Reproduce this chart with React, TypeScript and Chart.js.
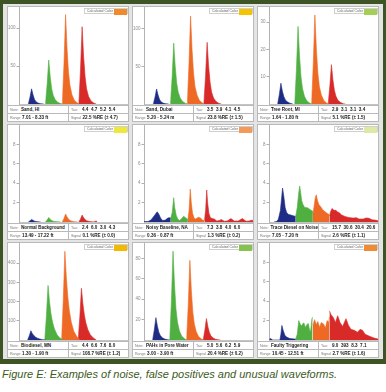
import React, { useEffect, useRef } from "react";
import { Chart, registerables } from "chart.js";
Chart.register(...registerables);

type Pt = [number, number];

// ---- panel metadata ----
const NOTES = [
  "Sand, HI", "Sand, Dubai", "Tree Root, MI",
  "Normal Background", "Noisy Baseline, NA", "Trace Diesel on Noise",
  "Biodiesel, MN", "PAHs in Pore Water", "Faulty Triggering",
];
const TAUS = [
  "4.4  4.7  5.2  5.4", "3.5  3.9  4.1  4.5", "2.9  3.1  3.1  3.4",
  "2.4  6.0  3.0  4.3", "7.3  3.8  4.0  6.0", "15.7  30.6  30.4  20.6",
  "4.4  6.6  7.6  8.0", "5.0  5.6  6.2  5.9", "9.0  393  8.3  7.1",
];
const RANGES = [
  "7.01 - 8.33 ft", "5.20 - 5.24 m", "1.64 - 1.80 ft",
  "13.49 - 17.22 ft", "0.36 - 0.87 ft", "7.05 - 7.20 ft",
  "1.30 - 1.90 ft", "3.00 - 3.90 ft", "10.45 - 12.51 ft",
];
const SIGNALS = [
  "22.5 %RE (± 4.7)", "23.8 %RE (± 1.5)", "5.1 %RE (± 1.5)",
  "0.1 %RE (± 0.0)", "1.3 %RE (± 0.2)", "2.6 %RE (± 1.1)",
  "108.7 %RE (± 1.2)", "20.4 %RE (± 0.2)", "2.7 %RE (± 1.6)",
];
const SWATCHES = [
  "#f08a2c", "#f5c400", "#a4cf55",
  "#eee83a", "#f29a5a", "#dfe9a3",
  "#f3b900", "#86c34e", "#f08a35",
];
const Y_MAX = [128, 129, 35.5, 10, 10, 10, 505, 95, 10];
const Y_TICKS = [
  [50, 100], [50, 100], [10, 20, 30],
  [2, 4, 6, 8], [2, 4, 6, 8], [2, 4, 6, 8],
  [100, 200, 300, 400], [20, 40, 60, 80], [2, 4, 6, 8],
];
const CHANNEL_COLORS = ["#1f2c86", "#4fb041", "#ee6a24", "#d92a2a"];

// ---- waveforms: [time, signal] for blue, green, orange, red channels ----
const WAVES_SAND_HI: Pt[][] = [
  [[9.4, 0], [11.1, 9], [12.7, 20], [14.2, 12], [15.7, 6], [17.2, 3], [19.2, 1.2], [22, 0.3], [25, 0]],
  [[26.7, 0], [28.4, 26], [30, 58], [31.5, 36], [33, 20], [34.5, 11.6], [36.5, 5.8], [39, 2.3], [42, 0.6], [44, 0]],
  [[43.7, 0], [45.4, 53], [47, 118], [48.5, 73], [50, 41], [51.5, 24], [53.5, 12], [56, 4.7], [59, 1.2], [61, 0]],
  [[60.4, 0], [62.1, 46], [63.7, 102], [65.2, 63], [66.7, 36], [68.2, 20], [70.2, 10], [72.7, 4], [75.7, 1], [78, 0]],
];
const WAVES_SAND_DUBAI: Pt[][] = [
  [[9.4, 0], [11.1, 9], [12.7, 20], [14.2, 12], [15.7, 6], [17.2, 3], [19.2, 1.2], [22, 0.3], [25, 0]],
  [[26.7, 0], [28.4, 36], [30, 81], [31.5, 50], [33, 28], [34.5, 16], [36.5, 8], [39, 3.2], [42, 0.8], [44, 0]],
  [[43.7, 0], [45.4, 53], [47, 117], [48.5, 72], [50, 41], [51.5, 23], [53.5, 12], [56, 4.7], [59, 1.2], [61, 0]],
  [[60.4, 0], [62.1, 37], [63.7, 82], [65.2, 51], [66.7, 29], [68.2, 16], [70.2, 8], [72.7, 3.3], [75.7, 0.8], [78, 0]],
];
const WAVES_TREE_ROOT: Pt[][] = [
  [[8.7, 0], [10.4, 3.4], [12, 7.6], [13.5, 4.7], [15, 2.7], [16.5, 1.5], [18.5, 0.8], [21, 0.3], [24, 0]],
  [[26, 0], [27.7, 12.8], [29.3, 28.4], [30.8, 17.6], [32.3, 9.9], [33.8, 5.7], [35.8, 2.8], [38.3, 1.1], [41.3, 0.3], [43.3, 0]],
  [[43, 0], [44.7, 14.7], [46.3, 32.6], [47.8, 20.2], [49.3, 11.4], [50.8, 6.5], [52.8, 3.3], [55.3, 1.3], [58.3, 0.3], [60.3, 0]],
  [[59.7, 0], [61.4, 6.5], [63, 14.4], [64.5, 8.9], [66, 5], [67.5, 2.9], [69.5, 1.4], [72, 0.6], [75, 0.1], [77, 0]],
];
const WAVES_NORMAL_BG: Pt[][] = [
  [[9.4, 0], [11.1, 0.12], [12.7, 0.27], [14.2, 0.17], [15.7, 0.09], [17.2, 0.05], [19.2, 0.02], [22, 0]],
  [[26.7, 0], [28.4, 0.21], [30, 0.47], [31.5, 0.29], [33, 0.16], [34.5, 0.09], [36.5, 0.05], [39, 0.02], [42, 0]],
  [[43.7, 0], [45.4, 0.37], [47, 0.82], [48.5, 0.51], [50, 0.29], [51.5, 0.16], [53.5, 0.08], [56, 0.03], [59, 0]],
  [[60.4, 0], [62.1, 0.32], [63.7, 0.71], [65.2, 0.44], [66.7, 0.25], [68.2, 0.14], [70.2, 0.07], [72.7, 0.03], [75.7, 0.01], [77, 0.08], [78, 0.1], [79, 0]],
];
const WAVES_NOISY: Pt[][] = [
  [[0, 0.05], [4, 0.05], [7, 0.2], [10, 0.6], [13.3, 1.05], [15, 0.8], [17, 0.35], [19, 0.15], [21.5, 0.2], [24, 0.4], [25.5, 0.45], [27, 0.4]],
  [[27, 0.4], [28.5, 1.0], [30, 2.5], [31, 1.5], [32.5, 0.7], [34, 0.3], [36, 0.15], [38, 0.35], [40, 0.58], [42, 0.45], [44.3, 0.25]],
  [[44.3, 0.25], [45.5, 1.2], [46.7, 3.4], [47.7, 2.0], [49, 0.9], [50.5, 0.4], [52, 0.3], [55, 0.5], [57, 0.4], [59, 0.2], [61, 0.15]],
  [[61, 0.15], [62.2, 1.2], [63.3, 3.3], [64.3, 1.9], [65.5, 0.9], [67, 0.45], [69, 0.35], [71, 0.3], [73.5, 0.1], [76, 0.15], [78, 0.25], [81, 0.08], [84, 0.1], [87.7, 0.35], [91, 0.1], [95, 0.1], [99.3, 0.35], [103, 0.08], [106, 0.1], [109.3, 0.2], [110, 0.05]],
];
const WAVES_DIESEL: Pt[][] = [
  [[5, 0], [7.7, 0.05], [9.5, 0.3], [11.5, 1.2], [13.7, 3.5], [15, 2.6], [16.3, 1.5], [17.7, 1.0], [19.3, 0.8], [22.7, 0.7], [26, 0.6], [27, 0.6]],
  [[27, 0.6], [28.5, 1.5], [30, 3.0], [31, 3.7], [32, 3.0], [33, 2.2], [34.3, 1.8], [36, 1.5], [38, 1.5], [40, 1.4], [42, 1.25], [44.3, 1.1]],
  [[44.3, 0.8], [45.5, 1.6], [46.7, 2.5], [47.7, 2.8], [49, 2.2], [50.3, 1.8], [52, 1.6], [54, 1.3], [56, 1.1], [58.5, 0.9], [61, 0.75]],
  [[61, 0.6], [62.3, 1.1], [63.7, 1.4], [65.5, 1.2], [67.5, 1.2], [69, 1.05], [71, 0.95], [73, 0.75], [76, 0.6], [79, 0.5], [82, 0.45], [85, 0.4], [88, 0.45], [91, 0.3], [95, 0.3], [98, 0.42], [101, 0.38], [104, 0.22], [107, 0.2], [110, 0.12]],
];
const WAVES_BIODIESEL: Pt[][] = [
  [[8.7, 0], [10.4, 22], [12, 48], [13.5, 33], [15, 23], [16.5, 16], [18.5, 9.6], [21, 4.8], [24, 1.5], [27, 0]],
  [[26, 0], [27.7, 128], [29.3, 284], [30.8, 199], [32.3, 136], [33.8, 94], [35.8, 57], [38.3, 28], [41.3, 11], [44.3, 0]],
  [[43, 0], [44.7, 208], [46.3, 462], [47.8, 323], [49.3, 222], [50.8, 152], [52.8, 92], [55.3, 46], [58.3, 18], [61.3, 0]],
  [[59.7, 0], [61.4, 121], [63, 269], [64.5, 188], [66, 129], [67.5, 89], [69.5, 54], [72, 27], [75, 11], [78, 0]],
];
const WAVES_PAHS: Pt[][] = [
  [[8.7, 0], [10.4, 9.9], [12, 21.9], [13.5, 13.6], [15, 7.7], [16.5, 4.4], [18.5, 2.2], [21, 0.9], [24, 0.2], [26, 0]],
  [[26, 0], [27.7, 39], [29.3, 87], [30.8, 54], [32.3, 30], [33.8, 17.4], [35.8, 8.7], [38.3, 3.5], [41.3, 0.9], [43.3, 0]],
  [[43, 0], [44.7, 35], [46.3, 78], [47.8, 48], [49.3, 27], [50.8, 15.6], [52.8, 7.8], [55.3, 3.1], [58.3, 0.8], [60.3, 0]],
  [[59.7, 0], [61.4, 9.5], [63, 21], [64.5, 13], [66, 7.4], [67.5, 4.2], [69.5, 2.1], [72, 0.8], [75, 0.2], [77, 0]],
];
const WAVES_FAULTY: Pt[][] = [
  [[0, 0], [1, 0.15], [2.5, 0.1], [3.5, 0], [11, 0], [12, 0.6], [13, 1.5], [14.3, 1.0], [16, 0.5], [17.7, 0.3], [21, 0.15], [26, 0.1], [27, 0.1]],
  [[27, 0.1], [28.5, 0.6], [30, 2.0], [31.7, 1.6], [32.7, 1.45], [34.3, 1.7], [35.3, 1.75], [36.7, 1.3], [38.3, 1.6], [39.7, 1.7], [41, 1.0], [42, 0.9], [43.3, 2.2], [44, 2.35]],
  [[44.3, 1.5], [46, 2.1], [47.7, 1.6], [49.3, 1.9], [51, 1.3], [52.7, 1.8], [55, 1.65], [57, 1.25], [58.7, 2.0], [60.3, 1.8], [61, 2.4]],
  [[61, 3.0], [62.7, 2.6], [65, 2.3], [67, 1.8], [69.3, 2.5], [71.7, 1.8], [74.3, 1.4], [77.7, 2.2], [80.3, 1.5], [82.7, 1.1], [86, 1.0], [89.3, 0.8], [92, 1.1], [94.3, 1.0], [97, 0.6], [101, 0.4], [106, 0.2], [110, 0.1]],
];
const WAVES: Pt[][][] = [
  WAVES_SAND_HI, WAVES_SAND_DUBAI, WAVES_TREE_ROOT,
  WAVES_NORMAL_BG, WAVES_NOISY, WAVES_DIESEL,
  WAVES_BIODIESEL, WAVES_PAHS, WAVES_FAULTY,
];

const FONT = '"Liberation Sans", Arial, sans-serif';
const COL_LEFT = [7, 132, 257];
const ROW_TOP = [6, 124, 242];
const PANEL_W = 122;
const PANEL_H = 116;
const CANVAS_W = 120;
const CANVAS_H = 98;

function Panel({ i }: { i: number }) {
  const ref = useRef<HTMLCanvasElement>(null);
  useEffect(() => {
    const chart = new Chart(ref.current as HTMLCanvasElement, {
      type: "line",
      data: {
        datasets: WAVES[i].map((s, k) => ({
          data: s.map(([x, y]) => ({ x, y })),
          fill: "origin",
          backgroundColor: CHANNEL_COLORS[k],
          borderColor: CHANNEL_COLORS[k],
          borderWidth: 0.6,
          pointRadius: 0,
          tension: 0,
        })),
      },
      options: {
        responsive: false,
        animation: false,
        maintainAspectRatio: false,
        plugins: { legend: { display: false }, tooltip: { enabled: false } },
        layout: { padding: 0 },
        scales: {
          x: {
            type: "linear",
            min: 0,
            max: 110,
            grid: { display: false, drawTicks: false },
            ticks: { display: false },
            border: { display: true, color: "#c4c4c4", dash: [1, 1.5] },
            afterFit: (s: any) => { s.height = 1; s.paddingLeft = 0; s.paddingRight = 0; },
          },
          y: {
            min: 0,
            max: Y_MAX[i],
            afterBuildTicks: (s: any) => { s.ticks = Y_TICKS[i].map((v) => ({ value: v })); },
            ticks: { font: { size: 4.5, family: FONT }, color: "#8c8c8c", padding: 1 },
            grid: { drawOnChartArea: false, tickLength: 2.5, color: "#9a9a9a", lineWidth: 0.8 },
            border: { color: "#b4b4b4" },
            afterFit: (s: any) => { s.width = 11; s.paddingTop = 0; s.paddingBottom = 0; },
          },
        },
      } as any,
    });
    return () => chart.destroy();
  }, [i]);

  const col = i % 3;
  const row = Math.floor(i / 3);
  const cell = (top: number, left: number, width: number, label: string, value: string) => (
    <div style={{ position: "absolute", top, left, width, height: 8, display: "flex", alignItems: "center", whiteSpace: "pre", overflow: "hidden" }}>
      <span style={{ fontSize: 3.6, color: "#777", marginLeft: 2, width: label === "Range" || label === "Signal" ? undefined : 10 }}>{label}</span>
      <span style={{ fontSize: 4.6, fontWeight: "bold", color: "#222", marginLeft: label === "Range" || label === "Signal" ? 1.5 : 1 }}>{value}</span>
    </div>
  );
  return (
    <div style={{ position: "absolute", left: COL_LEFT[col], top: ROW_TOP[row], width: PANEL_W, height: PANEL_H, boxSizing: "border-box", border: "1px solid #b9b9b9", background: "#fff", fontFamily: FONT }}>
      <canvas ref={ref} width={CANVAS_W} height={CANVAS_H} style={{ position: "absolute", left: 0, top: 0, width: CANVAS_W, height: CANVAS_H }} />
      <div style={{ position: "absolute", top: 1, left: 76, width: 44, height: 6, boxSizing: "border-box", border: "0.5px solid #cfcfcf", display: "flex", alignItems: "center" }}>
        <span style={{ fontSize: 3.5, color: "#666", marginLeft: 2, whiteSpace: "nowrap" }}>Calculated Color</span>
        <div style={{ position: "absolute", right: 0, top: 0, width: 13, height: 6, background: SWATCHES[i] }} />
      </div>
      <div style={{ position: "absolute", left: 0, top: CANVAS_H, width: PANEL_W - 2, height: 16, borderTop: "1px solid #b9b9b9", boxSizing: "border-box" }}>
        <div style={{ position: "absolute", left: 0, top: 7, width: "100%", height: 0, borderTop: "1px solid #b9b9b9" }} />
        <div style={{ position: "absolute", left: 60, top: 0, width: 0, height: 16, borderLeft: "1px solid #b9b9b9" }} />
        {cell(-0.5, 0, 60, "Note:", NOTES[i])}
        {cell(-0.5, 61, 59, "Tau:", TAUS[i])}
        {cell(7.5, 0, 60, "Range", RANGES[i])}
        {cell(7.5, 61, 59, "Signal", SIGNALS[i])}
      </div>
    </div>
  );
}

export default function App() {
  return (
    <div style={{ position: "fixed", left: 0, top: 0, width: 386, height: 392, background: "#fff", overflow: "hidden" }}>
      <div style={{ position: "absolute", left: 0, top: 0, width: 386, height: 364, background: "#3d5424" }} />
      <div style={{ position: "absolute", left: 3, top: 4, width: 380, height: 355, background: "#e4e4e4" }} />
      {Array.from({ length: 9 }, (_, i) => <Panel key={i} i={i} />)}
      <div style={{ position: "absolute", left: 2, top: 367, fontFamily: FONT, fontStyle: "italic", fontSize: 11, lineHeight: "14px", color: "#3d5a25", whiteSpace: "nowrap" }}>
        Figure E: Examples of noise, false positives and unusual waveforms.
      </div>
    </div>
  );
}
